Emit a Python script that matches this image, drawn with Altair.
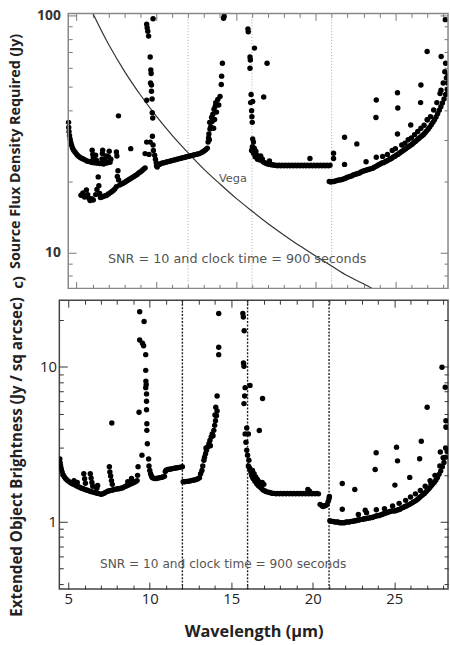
import altair as alt
import pandas as pd

# ---------------- axis values ----------------
wavelength_major = [5, 10, 15, 20, 25]
wavelength_minor = [6, 7, 8, 9, 11, 12, 13, 14, 16, 17, 18, 19, 21, 22, 23, 24, 26, 27, 28]
flux_major = [10, 100]
flux_minor = [8, 9, 20, 30, 40, 50, 60, 70, 80, 90]
bright_major = [1, 10]
bright_minor = [0.4, 0.5, 0.6, 0.7, 0.8, 0.9, 2, 3, 4, 5, 6, 7, 8, 9, 20]
channel_edges = [12, 16, 21]

# plotted ranges (frame of each panel)
top_frame_wl = [4.48, 28.3]
top_frame_flux = [7.08, 102.2]
bottom_frame_wl = [4.45, 28.3]
bottom_frame_bright = [0.37, 26.9]

# ---------------- Vega reference curve (top panel) ----------------
vega_wl = [6.0, 7, 8, 9, 10, 11, 12, 13, 14, 15, 16, 17, 18, 19, 20, 21, 22, 23, 24]
vega_flux = [103, 75.9, 58.4, 46.4, 37.7, 31.3, 26.4, 22.5, 19.5, 17.0, 15.0, 13.3,
             11.9, 10.7, 9.7, 8.8, 8.0, 7.4, 6.8]

# ---------------- top panel: source flux density (Jy) ----------------
top_left_upper = [
    (4.50, 35.5), (4.51, 33.8), (4.53, 32.4), (4.56, 31.2), (4.60, 30.1), (4.64, 29.2),
    (4.69, 28.4), (4.75, 27.7), (4.82, 27.1), (4.90, 26.6), (4.98, 26.2), (5.06, 25.8),
    (5.15, 25.5), (5.25, 25.2), (5.35, 25.0), (5.45, 24.8), (5.55, 24.6), (5.65, 24.4),
    (5.75, 24.3), (5.85, 24.2), (5.95, 24.1), (6.05, 24.0), (6.15, 24.0), (6.25, 23.9),
    (6.35, 23.9), (6.45, 23.8), (6.55, 23.8), (6.70, 23.7), (6.90, 23.9), (7.10, 24.1),
    (5.98, 27.1), (6.02, 26.0), (6.05, 25.2), (6.20, 25.8), (6.25, 24.6), (6.60, 24.9),
    (6.62, 26.2), (6.64, 27.1), (6.80, 24.5), (6.85, 25.6), (7.01, 25.4), (7.05, 26.8),
    (7.15, 24.8), (7.50, 26.6), (7.53, 25.6), (8.40, 27.5), (9.30, 26.2), (9.40, 29.3),
    (7.63, 37.8),
]
top_left_lower = [
    (5.28, 17.5), (5.40, 17.9), (5.50, 17.2), (5.62, 18.4), (5.70, 17.6), (5.78, 17.0),
    (5.85, 16.6), (5.95, 16.9), (6.05, 16.7), (6.20, 17.6), (6.28, 18.5), (6.36, 20.9),
    (6.40, 19.2), (6.45, 17.8), (6.50, 17.1), (6.60, 17.2), (6.70, 17.3), (6.80, 17.4),
    (6.90, 17.5), (7.00, 17.7), (7.10, 17.9), (7.20, 18.1), (7.30, 18.3), (7.40, 18.6),
    (7.50, 19.0), (7.56, 21.0), (7.60, 22.2), (7.64, 20.3), (7.70, 19.3), (7.80, 19.5),
    (7.90, 19.6), (8.00, 19.8), (8.10, 20.0), (8.20, 20.2), (8.30, 20.4), (8.40, 20.6),
    (8.50, 20.8), (8.60, 21.0), (8.70, 21.2), (8.80, 21.4), (8.90, 21.7), (9.00, 21.9),
    (9.10, 22.2), (9.20, 22.5), (9.30, 22.8),
]
top_spike_1 = [
    (9.40, 92), (9.43, 89), (9.47, 86), (9.52, 82), (9.80, 97), (9.62, 67), (9.66, 59),
    (9.68, 57), (9.64, 52), (9.70, 51), (9.70, 48), (9.74, 44.5), (9.40, 44), (9.75, 39),
    (9.78, 37), (9.76, 31), (9.80, 28.5), (9.62, 29.3), (9.55, 26), (9.82, 27),
    (9.90, 25.8), (9.95, 24.8),
]
top_mid_band = [
    (10.00, 24.0), (10.02, 23.3), (10.06, 23.0), (10.10, 23.4), (10.20, 23.6), (10.30, 23.8),
    (10.40, 23.9), (10.50, 24.0), (10.60, 24.1), (10.70, 24.2), (10.80, 24.3), (10.90, 24.4),
    (11.00, 24.5), (11.10, 24.6), (11.20, 24.7), (11.30, 24.8), (11.40, 24.9), (11.50, 25.0),
    (11.60, 25.1), (11.70, 25.2), (11.80, 25.3), (11.90, 25.4), (12.00, 25.5), (12.10, 25.6),
    (12.20, 25.7), (12.30, 25.8), (12.40, 25.9), (12.50, 26.0), (12.60, 26.1), (12.70, 26.2),
    (12.80, 26.4), (12.90, 26.6), (13.00, 26.9), (13.10, 27.2), (13.20, 27.6),
]
top_spike_2 = [
    (13.25, 29.3), (13.28, 30.5), (13.30, 31.7), (13.33, 30.0), (13.37, 33.3), (13.35, 35.5),
    (13.42, 34.0), (13.47, 37.2), (13.50, 35.8), (13.55, 38.4), (13.60, 33.5), (13.62, 40.3),
    (13.66, 36.5), (13.70, 41.5), (13.73, 43.0), (13.78, 39.2), (13.86, 44.3), (13.92, 42.0),
    (14.00, 45.6), (14.08, 51.3), (14.10, 55.6), (14.15, 63.0), (14.22, 97.6), (14.26, 99.5),
]
top_spike_3 = [
    (15.75, 88), (15.77, 85.5), (16.16, 73), (15.88, 67), (15.90, 65), (15.88, 60),
    (16.95, 63), (15.95, 46.5), (16.05, 43.5), (15.92, 43), (16.74, 45.4), (15.98, 39.7),
    (16.00, 37.5), (16.02, 35.5), (16.05, 30.2), (16.10, 29.3), (16.03, 28.0), (16.15, 27.6),
    (15.98, 27.0), (16.10, 26.3), (16.20, 25.4), (16.25, 26.8), (16.30, 25.8), (16.40, 25.5),
    (16.35, 24.8), (16.55, 25.6), (16.65, 24.9), (16.50, 24.6),
]
top_right_flat = [
    (16.70, 24.2), (16.80, 24.0), (16.90, 23.8), (17.00, 23.7), (17.10, 23.6), (17.20, 23.5),
    (17.30, 23.5), (17.40, 23.4), (17.50, 23.4), (17.60, 23.3), (17.70, 23.4), (17.80, 23.3),
    (17.90, 23.4), (18.00, 23.3), (18.10, 23.4), (18.20, 23.3), (18.30, 23.4), (18.40, 23.3),
    (18.50, 23.4), (18.60, 23.3), (18.70, 23.4), (18.80, 23.3), (18.90, 23.4), (19.00, 23.3),
    (19.10, 23.4), (19.20, 23.3), (19.30, 23.4), (19.40, 23.3), (19.50, 23.4), (19.60, 23.3),
    (19.70, 23.4), (19.80, 23.3), (19.90, 23.4), (20.00, 23.3), (20.10, 23.4), (20.20, 23.3),
    (20.30, 23.4), (20.40, 23.3), (20.50, 23.4), (20.60, 23.3), (20.70, 23.4), (20.80, 23.3),
    (20.90, 23.4), (19.64, 25.0), (17.10, 24.4), (21.12, 26.3), (21.12, 25.0),
]
top_right_band = [
    (20.85, 20.0), (20.95, 19.9), (21.05, 20.0), (21.15, 20.0), (21.25, 20.1), (21.35, 20.2),
    (21.45, 20.3), (21.55, 20.3), (21.65, 20.4), (21.75, 20.5), (21.85, 20.6), (21.95, 20.8),
    (22.05, 20.9), (22.15, 21.0), (22.25, 21.1), (22.35, 21.3), (22.45, 21.4), (22.55, 21.5),
    (22.65, 21.6), (22.75, 21.7), (22.85, 21.9), (22.95, 22.1), (23.05, 22.2), (23.15, 22.3),
    (23.25, 22.4), (23.35, 22.5), (23.45, 22.6), (23.55, 22.7), (23.65, 22.9), (23.75, 23.1),
    (23.85, 23.3), (23.95, 23.5), (24.05, 23.7), (24.15, 23.9), (24.25, 24.0), (24.35, 24.2),
    (24.45, 24.4), (24.55, 24.6), (24.65, 24.8), (24.75, 25.0), (24.85, 25.3), (24.95, 25.5),
    (25.05, 25.8), (25.15, 26.0), (25.25, 26.3), (25.35, 26.6), (25.45, 26.9), (25.55, 27.2),
    (25.65, 27.5), (25.75, 27.8), (25.85, 28.1), (25.95, 28.4), (26.05, 28.7), (26.15, 29.1),
    (26.25, 29.5), (26.35, 29.9), (26.45, 30.3), (26.55, 30.7), (26.65, 31.1), (26.75, 31.5),
    (26.85, 32.0), (26.95, 32.6), (27.05, 33.2), (27.15, 33.9), (27.25, 34.7), (27.35, 35.5),
    (27.45, 36.4), (27.55, 37.4), (27.65, 38.6), (27.75, 39.9), (27.85, 41.3), (27.95, 42.8),
    (28.05, 44.5), (28.15, 46.5), (28.25, 48.8), (28.28, 52.0), (28.30, 56.0),
]
top_right_branch = [
    (23.80, 25.3), (24.20, 25.5), (24.50, 26.0), (24.80, 27.0), (25.00, 27.5), (25.40, 28.5),
    (25.60, 29.0), (25.80, 30.0), (26.00, 30.5), (26.20, 31.5), (26.40, 32.5), (26.60, 33.5),
    (26.80, 34.5), (27.00, 36.4), (27.20, 37.5), (27.40, 40.0), (27.60, 43.0), (27.80, 47.0),
    (28.00, 52.0), (28.10, 58.0),
]
top_right_scatter = [
    (21.81, 30.7), (22.58, 28.8), (21.81, 23.6), (23.16, 24.2), (23.78, 37.2), (23.80, 44.1),
    (25.13, 47.3), (25.15, 40.8), (25.13, 31.7), (25.96, 34.6), (26.58, 43.0), (26.60, 51.0),
    (26.99, 70.6), (27.00, 36.4), (27.86, 48.5), (27.87, 67.3), (28.13, 96.2), (28.15, 63.0),
    (28.20, 54.6),
]

# ---------------- bottom panel: extended object brightness (Jy / sq arcsec) ----------------
bot_left_band = [
    (4.48, 2.55), (4.50, 2.40), (4.53, 2.30), (4.57, 2.20), (4.62, 2.10), (4.68, 2.02),
    (4.75, 1.96), (4.83, 1.91), (4.92, 1.87), (5.02, 1.83), (5.12, 1.80), (5.22, 1.77),
    (5.32, 1.75), (5.42, 1.73), (5.52, 1.71), (5.62, 1.69), (5.72, 1.67), (5.82, 1.65),
    (5.92, 1.64), (6.02, 1.62), (6.12, 1.61), (6.22, 1.60), (6.32, 1.58), (6.42, 1.57),
    (6.52, 1.56), (6.62, 1.55), (6.72, 1.54), (6.82, 1.53), (6.92, 1.52), (7.02, 1.51),
    (7.12, 1.52), (7.22, 1.54), (7.32, 1.56), (7.42, 1.58), (7.52, 1.59), (7.62, 1.60),
    (7.72, 1.61), (7.82, 1.62), (7.92, 1.63), (8.02, 1.64), (8.12, 1.64), (8.22, 1.65),
    (8.32, 1.66), (8.42, 1.68), (8.52, 1.70), (8.62, 1.72), (8.72, 1.74), (8.82, 1.76),
    (8.92, 1.78), (9.02, 1.80), (9.12, 1.82), (9.22, 1.85),
]
bot_left_scatter = [
    (5.95, 2.05), (6.00, 1.90), (6.05, 1.78), (6.35, 2.05), (6.40, 1.92), (6.45, 1.80),
    (6.50, 1.70), (6.75, 1.65), (6.80, 1.72), (7.52, 2.27), (7.55, 2.10), (7.60, 1.98),
    (7.65, 1.85), (7.70, 1.75), (8.88, 1.91), (8.65, 1.82), (5.35, 1.85), (5.55, 1.80),
    (7.67, 4.35), (9.28, 2.27), (9.25, 2.00),
]
bot_spike_1 = [
    (9.38, 22.7), (9.65, 19.6), (9.38, 14.9), (9.55, 14.2), (9.62, 13.7), (9.75, 12.0),
    (9.75, 9.5), (9.76, 8.1), (9.78, 7.7), (9.75, 7.35), (9.80, 6.7), (9.80, 6.0),
    (9.80, 5.3), (9.34, 5.1), (9.82, 4.3), (9.82, 3.9), (9.85, 3.2), (9.52, 2.7),
    (9.93, 2.55), (9.95, 2.3),
]
bot_mid_a = [
    (10.00, 2.15), (10.05, 2.05), (10.10, 1.98), (10.15, 1.94), (10.20, 1.92), (10.30, 1.91),
    (10.40, 1.91), (10.50, 1.92), (10.60, 1.93), (10.70, 1.94), (10.80, 1.95), (10.90, 1.97),
    (10.95, 2.12), (11.00, 2.16), (11.10, 2.18), (11.20, 2.19), (11.30, 2.20), (11.40, 2.21),
    (11.50, 2.22), (11.60, 2.23), (11.70, 2.24), (11.80, 2.25), (11.90, 2.26), (12.00, 2.27),
]
bot_mid_b = [
    (12.05, 1.82), (12.15, 1.82), (12.25, 1.83), (12.35, 1.83), (12.45, 1.84), (12.55, 1.85),
    (12.65, 1.86), (12.75, 1.87), (12.85, 1.88), (12.95, 1.90), (13.05, 1.93),
]
bot_spike_2 = [
    (13.12, 2.05), (13.20, 2.15), (13.25, 2.30), (13.32, 2.50), (13.36, 2.62), (13.42, 2.76),
    (13.45, 3.00), (13.48, 2.90), (13.55, 3.05), (13.63, 3.20), (13.69, 3.36), (13.72, 3.10),
    (13.77, 3.53), (13.83, 3.70), (13.88, 3.60), (13.93, 3.90), (13.98, 4.20), (14.03, 4.50),
    (14.00, 4.90), (14.09, 4.85), (14.13, 5.20), (14.05, 5.50), (14.13, 6.50), (14.23, 12.0),
    (14.23, 13.4), (14.23, 22.1),
]
bot_spike_3 = [
    (15.71, 22.1), (15.74, 21.0), (15.79, 17.1), (15.75, 10.6), (15.78, 10.1), (15.85, 7.35),
    (16.15, 7.6), (15.82, 6.5), (15.78, 5.8), (16.92, 6.25), (15.95, 4.04), (15.85, 3.7),
    (16.05, 3.7), (16.72, 3.89), (15.90, 3.27), (15.95, 2.9), (16.00, 2.7), (16.08, 2.5),
    (16.05, 2.3),
]
bot_right_flat = [
    (16.10, 2.25), (16.15, 2.20), (16.20, 2.10), (16.25, 2.00), (16.30, 1.95), (16.35, 1.90),
    (16.45, 1.83), (16.55, 1.77), (16.65, 1.72), (16.75, 1.69), (16.85, 1.65), (16.95, 1.61),
    (17.05, 1.59), (17.15, 1.57), (17.25, 1.56), (17.35, 1.55), (17.45, 1.54), (17.55, 1.53),
    (17.65, 1.53), (17.75, 1.52), (17.85, 1.53), (17.95, 1.52), (18.05, 1.53), (18.15, 1.52),
    (18.25, 1.53), (18.35, 1.52), (18.45, 1.53), (18.55, 1.52), (18.65, 1.53), (18.75, 1.52),
    (18.85, 1.53), (18.95, 1.52), (19.05, 1.53), (19.15, 1.52), (19.25, 1.53), (19.35, 1.52),
    (19.45, 1.53), (19.55, 1.52), (19.65, 1.53), (19.75, 1.52), (19.85, 1.53), (19.95, 1.52),
    (20.05, 1.53), (20.15, 1.52), (20.25, 1.53), (20.35, 1.52),
    (16.30, 2.15), (16.40, 2.05), (16.50, 1.95), (16.60, 1.88), (16.70, 1.82), (16.90, 1.80),
    (17.00, 1.75), (19.70, 1.62), (19.80, 1.58),
    (20.45, 1.30), (20.55, 1.28), (20.62, 1.26), (20.70, 1.27), (20.80, 1.28), (20.88, 1.30),
    (20.95, 1.36), (21.00, 1.42), (21.02, 1.46),
]
bot_right_band = [
    (21.05, 1.02), (21.15, 1.01), (21.25, 1.01), (21.35, 1.00), (21.45, 1.00), (21.55, 1.00),
    (21.65, 0.99), (21.75, 0.99), (21.85, 0.99), (21.95, 0.99), (22.05, 1.00), (22.15, 1.00),
    (22.25, 1.00), (22.35, 1.01), (22.45, 1.01), (22.55, 1.02), (22.65, 1.02), (22.75, 1.03),
    (22.85, 1.03), (22.95, 1.04), (23.05, 1.04), (23.15, 1.05), (23.25, 1.05), (23.35, 1.06),
    (23.45, 1.06), (23.55, 1.07), (23.65, 1.07), (23.75, 1.08), (23.85, 1.09), (23.95, 1.10),
    (24.05, 1.10), (24.15, 1.11), (24.25, 1.12), (24.35, 1.13), (24.45, 1.14), (24.55, 1.15),
    (24.65, 1.16), (24.75, 1.17), (24.85, 1.18), (24.95, 1.18), (25.05, 1.18), (25.15, 1.19),
    (25.25, 1.20), (25.35, 1.21), (25.45, 1.23), (25.55, 1.24), (25.65, 1.26), (25.75, 1.27),
    (25.85, 1.29), (25.95, 1.30), (26.05, 1.32), (26.15, 1.34), (26.25, 1.36), (26.35, 1.38),
    (26.45, 1.41), (26.55, 1.44), (26.65, 1.47), (26.75, 1.50), (26.85, 1.53), (26.95, 1.57),
    (27.05, 1.61), (27.15, 1.65), (27.25, 1.70), (27.35, 1.75), (27.45, 1.80), (27.55, 1.86),
    (27.65, 1.94), (27.75, 2.03), (27.85, 2.13), (27.95, 2.27), (28.05, 2.42), (28.15, 2.62),
    (28.25, 2.85),
]
bot_right_branch = [
    (22.80, 1.12), (23.30, 1.15), (23.90, 1.20), (24.40, 1.22), (24.90, 1.27), (25.30, 1.32),
    (25.70, 1.38), (26.00, 1.45), (26.30, 1.52), (26.60, 1.60), (26.90, 1.70), (27.20, 1.85),
    (27.50, 2.00), (27.80, 2.30), (28.00, 2.60), (28.15, 3.00),
]
bot_right_scatter = [
    (21.81, 1.77), (22.58, 1.62), (21.81, 1.21), (23.22, 1.19), (23.89, 2.80), (23.83, 2.18),
    (25.14, 3.04), (25.20, 2.48), (25.04, 1.73), (25.95, 1.94), (26.66, 3.32), (26.56, 2.56),
    (27.02, 5.50), (27.26, 1.77), (27.83, 2.83), (27.93, 9.96), (28.13, 7.40), (28.17, 4.50),
    (28.17, 4.10),
]

top_points = (top_left_upper + top_left_lower + top_spike_1 + top_mid_band + top_spike_2
              + top_spike_3 + top_right_flat + top_right_band + top_right_branch + top_right_scatter)
bottom_points = (bot_left_band + bot_left_scatter + bot_spike_1 + bot_mid_a + bot_mid_b
                 + bot_spike_2 + bot_spike_3 + bot_right_flat + bot_right_band
                 + bot_right_branch + bot_right_scatter)

snr_text = "SNR = 10 and clock time = 900 seconds"
panel_tag = "c)"

FONT = "Open Sans"
TOP_INSET = 9      # the upper frame starts this many pixels right of the lower one


def tick_axis(orient, values, size, color, inset=0, **extra):
    opts = dict(orient=orient, values=values, tickSize=size, offset=-(size + inset), domain=False,
                grid=False, ticks=True, tickColor=color, tickWidth=1, labels=False, title=None,
                minExtent=0, maxExtent=300)
    opts.update(extra)
    return alt.Axis(**opts)


def panel(points, width, height, xdom, ydom, frame, ymaj, ymin, tick_color, frame_color,
          ylab, xlab, rule_style, extra_layers, text_pos, text_size, inset):
    df = pd.DataFrame(points, columns=["wl", "v"])
    xs = alt.Scale(domain=xdom, nice=False, zero=False)
    ys = alt.Scale(type="log", domain=ydom, nice=False)
    base = alt.Chart(df)

    rules = alt.Chart(pd.DataFrame({"wl": channel_edges})).mark_rule(**rule_style).encode(
        x=alt.X("wl:Q", scale=xs, axis=None))

    pts = base.mark_circle(size=30, color="black", opacity=1, clip=True).encode(
        x=alt.X("wl:Q", scale=xs, axis=tick_axis("bottom", wavelength_major, 7, tick_color, **xlab)),
        y=alt.Y("v:Q", scale=ys, axis=tick_axis("left", ymaj, 8, tick_color, inset, **ylab)),
    )
    minor_lb = base.mark_circle(opacity=0, clip=True).encode(
        x=alt.X("wl:Q", scale=xs, axis=tick_axis("bottom", wavelength_minor, 4, tick_color)),
        y=alt.Y("v:Q", scale=ys, axis=tick_axis("left", ymin, 4, tick_color, inset)),
    )
    major_tr = base.mark_circle(opacity=0, clip=True).encode(
        x=alt.X("wl:Q", scale=xs, axis=tick_axis("top", wavelength_major, 7, tick_color)),
        y=alt.Y("v:Q", scale=ys, axis=tick_axis("right", ymaj, 8, tick_color)),
    )
    minor_tr = base.mark_circle(opacity=0, clip=True).encode(
        x=alt.X("wl:Q", scale=xs, axis=tick_axis("top", wavelength_minor, 4, tick_color)),
        y=alt.Y("v:Q", scale=ys, axis=tick_axis("right", ymin, 4, tick_color)),
    )
    snr = alt.Chart(pd.DataFrame({"wl": [text_pos[0]], "v": [text_pos[1]], "t": [snr_text]})).mark_text(
        align="left", baseline="middle", font="DejaVu Sans", fontSize=text_size, color="#555"
    ).encode(
        x=alt.X("wl:Q", scale=xs, axis=None),
        y=alt.Y("v:Q", scale=ys, axis=None),
        text="t:N",
    )
    layers = [rules] + extra_layers(xs, ys) + [pts, minor_lb, major_tr, minor_tr, snr]
    if frame is not None:
        fdf = pd.DataFrame({"x0": [frame[0][0]], "x1": [frame[0][1]],
                            "y0": [frame[1][0]], "y1": [frame[1][1]]})
        box = alt.Chart(fdf).mark_rect(fillOpacity=0, stroke=frame_color, strokeWidth=1.5).encode(
            x=alt.X("x0:Q", scale=xs, axis=None), x2="x1:Q",
            y=alt.Y("y0:Q", scale=ys, axis=None), y2="y1:Q",
        )
        layers.append(box)
        view = alt.ViewBackground(stroke="transparent", strokeWidth=0)
    else:
        view = alt.ViewBackground(stroke=frame_color, strokeWidth=1.5)
    return alt.layer(*layers).resolve_axis(x="independent", y="independent").properties(
        width=width, height=height, view=view,
    )


def vega_layers(xs, ys):
    vdf = pd.DataFrame({"wl": vega_wl, "v": vega_flux})
    line = alt.Chart(vdf).mark_line(color="#333", strokeWidth=1.2, clip=True,
                                    interpolate="monotone").encode(
        x=alt.X("wl:Q", scale=xs, axis=None),
        y=alt.Y("v:Q", scale=ys, axis=None),
    )
    lab = alt.Chart(pd.DataFrame({"wl": [13.93], "v": [20.5], "t": ["Vega"]})).mark_text(
        align="left", baseline="middle", font="DejaVu Sans", fontSize=11.5, color="#555"
    ).encode(
        x=alt.X("wl:Q", scale=xs, axis=None),
        y=alt.Y("v:Q", scale=ys, axis=None),
        text="t:N",
    )
    tag = alt.Chart(pd.DataFrame({"t": [panel_tag]})).mark_text(
        angle=270, align="center", baseline="middle", font=FONT, fontSize=15,
        fontWeight="bold", color="#222"
    ).encode(x=alt.value(-42), y=alt.value(272), text="t:N")
    return [line, lab, tag]


# the upper panel shares the lower panel's left edge; its frame is inset by TOP_INSET px
top_px_per_um = 384 / (top_frame_wl[1] - top_frame_wl[0])
top_xdom = [top_frame_wl[0] - TOP_INSET / top_px_per_um, top_frame_wl[1]]

top = panel(
    top_points, 393, 278, top_xdom, top_frame_flux, (top_frame_wl, top_frame_flux),
    flux_major, flux_minor, "#777", "#888",
    ylab=dict(labels=True, format="d", labelFont=FONT, labelFontSize=14, labelFontWeight="bold",
              labelColor="#333", labelPadding=8, title="Source Flux Density Required (Jy)",
              titleFont=FONT, titleFontSize=14.5, titleFontWeight="bold", titleColor="#222",
              titlePadding=14),
    xlab=dict(),
    rule_style=dict(color="#aaa", strokeDash=[1, 2], strokeWidth=1),
    extra_layers=vega_layers,
    text_pos=(6.97, 9.44), text_size=12.9, inset=TOP_INSET,
)

bottom = panel(
    bottom_points, 393, 292, bottom_frame_wl, bottom_frame_bright, None,
    bright_major, bright_minor, "#333", "#444",
    ylab=dict(labels=True, format="d", labelFont=FONT, labelFontSize=15, labelColor="#222",
              labelPadding=3, title="Extended Object Brightness (Jy / sq arcsec)",
              titleFont=FONT, titleFontSize=15.3, titleFontWeight="bold", titleColor="#222",
              titlePadding=15, titleY=158),
    xlab=dict(labels=True, format="d", labelFont=FONT, labelFontSize=15, labelColor="#222",
              labelPadding=3, labelFlush=False, title="Wavelength (µm)", titleFont=FONT,
              titleFontSize=16.5, titleFontWeight="bold", titleColor="#222", titlePadding=17),
    rule_style=dict(color="#222", strokeDash=[2, 1.5], strokeWidth=1.4),
    extra_layers=lambda xs, ys: [],
    text_pos=(6.94, 0.537), text_size=12.3, inset=0,
)

chart = alt.concat(top, bottom, columns=1, spacing=6, bounds="full").properties(
    padding={"left": 7, "top": 5, "right": 0, "bottom": 0},
    background="white",
)

chart.save("out.html", embed_options={"renderer": "svg", "actions": False})
